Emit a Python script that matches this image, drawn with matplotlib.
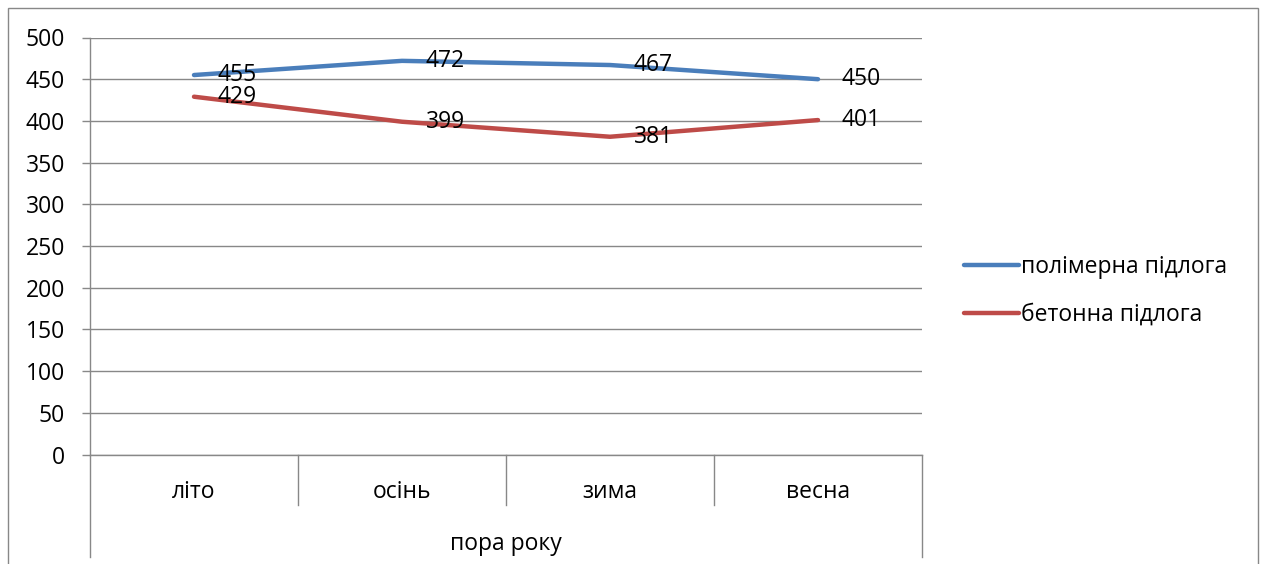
import matplotlib.pyplot as plt
from matplotlib.patches import Rectangle
import matplotlib.transforms as mtransforms

seasons = ["літо", "осінь", "зима", "весна"]
polymer = [455, 472, 467, 450]
concrete = [429, 399, 381, 401]
series_names = ["полімерна підлога", "бетонна підлога"]
axis_title = "пора року"
y_ticks = [0, 50, 100, 150, 200, 250, 300, 350, 400, 450, 500]

plt.rcParams["font.family"] = ["Open Sans", "DejaVu Sans"]
FS = 16.5
GRID = "#888888"

fig = plt.figure(figsize=(12.67, 5.64), dpi=100, facecolor="white")
ax = fig.add_axes([90 / 1267, 109.5 / 564, 832 / 1267, 417 / 564])

x = list(range(len(seasons)))
blue, = ax.plot(x, polymer, color="#4A7EBB", lw=3.2, solid_capstyle="round", clip_on=False)
red, = ax.plot(x, concrete, color="#BE4B48", lw=3.2, solid_capstyle="round", clip_on=False)

for xs, ys in ((x, polymer), (x, concrete)):
    for xi, yi in zip(xs, ys):
        ax.annotate(str(yi), (xi, yi), xytext=(17, 0), textcoords="offset points",
                    ha="left", va="center", fontsize=FS, color="black")

ax.set_xlim(-0.5, len(seasons) - 0.5)
ax.set_ylim(0, 500)
ax.set_yticks(y_ticks)
ax.set_yticklabels([str(t) for t in y_ticks], fontsize=FS)
ax.tick_params(axis="y", length=6, width=1, color=GRID, pad=12)
ax.set_xticks([])
ax.yaxis.grid(True, color=GRID, lw=1)
ax.set_axisbelow(True)
for side in ("top", "right"):
    ax.spines[side].set_visible(False)
for side in ("left", "bottom"):
    ax.spines[side].set_color(GRID)
    ax.spines[side].set_linewidth(1)

# multi-level category axis
trans = mtransforms.blended_transform_factory(ax.transData, ax.transAxes)
for b in [i + 0.5 for i in x[:-1]]:
    ax.plot([b, b], [0, -50 / 417], color=GRID, lw=1, transform=trans, clip_on=False)
for b in (-0.5, len(seasons) - 0.5):
    ax.plot([b, b], [0, -102 / 417], color=GRID, lw=1, transform=trans, clip_on=False)
for xi, name in zip(x, seasons):
    ax.text(xi, -37 / 417, name, transform=trans, ha="center", va="center", fontsize=FS)
ax.text(0.5, -90 / 417, axis_title, transform=ax.transAxes, ha="center", va="center", fontsize=FS)

# chart area border
fig.patches.append(Rectangle((8 / 1267, -0.1), 1250 / 1267, 1.1 - 8 / 564,
                             transform=fig.transFigure, fill=False, edgecolor=GRID, lw=1))

fig.legend([blue, red], series_names, loc="center left", bbox_to_anchor=(943 / 1267, 1 - 291 / 564),
           frameon=False, fontsize=FS, handlelength=2.4, handletextpad=0.12, labelspacing=1.05)

fig.savefig("out.png", dpi=100, facecolor="white")
